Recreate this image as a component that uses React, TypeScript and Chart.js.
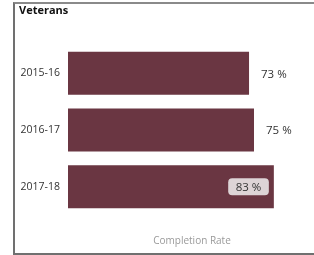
import React, { useEffect, useRef } from "react";
import { Chart, registerables } from "chart.js";

Chart.register(...registerables);

const titleText = "Veterans";
const categories = ["2015-16", "2016-17", "2017-18"];
const completionRate = [73, 75, 83];
const axisTitle = "Completion Rate";

const FONT = "'Open Sans', 'Noto Sans', sans-serif";

const cornerTitle = {
  id: "cornerTitle",
  afterDraw(chart: any) {
    const ctx = chart.ctx;
    ctx.save();
    ctx.font = `bold 11px ${FONT}`;
    ctx.fillStyle = "#111111";
    ctx.textAlign = "left";
    ctx.textBaseline = "middle";
    ctx.fillText(titleText, 19, 11);
    ctx.restore();
  },
};

const valueLabels = {
  id: "valueLabels",
  afterDatasetsDraw(chart: any) {
    const ctx = chart.ctx;
    const meta = chart.getDatasetMeta(0);
    ctx.save();
    ctx.font = `11.5px ${FONT}`;
    ctx.textBaseline = "middle";
    meta.data.forEach((bar: any, i: number) => {
      const text = `${completionRate[i]} %`;
      const w = ctx.measureText(text).width;
      const outsideX = bar.x + 12;
      if (outsideX + w <= 300) {
        ctx.fillStyle = "#333333";
        ctx.textAlign = "left";
        ctx.fillText(text, outsideX, bar.y + 1);
      } else {
        const boxW = w + 15;
        const boxH = 17;
        const bx = bar.x - 5 - boxW;
        const by = bar.y - boxH / 2;
        ctx.fillStyle = "#ddd4d6";
        ctx.beginPath();
        (ctx as any).roundRect(bx, by, boxW, boxH, 4);
        ctx.fill();
        ctx.fillStyle = "#333333";
        ctx.textAlign = "center";
        ctx.fillText(text, bx + boxW / 2, bar.y + 1);
      }
    });
    ctx.restore();
  },
};

export default function App() {
  const ref = useRef<HTMLCanvasElement>(null);
  useEffect(() => {
    if (!ref.current) return;
    const chart = new Chart(ref.current, {
      type: "bar",
      data: {
        labels: categories,
        datasets: [
          {
            data: completionRate,
            backgroundColor: "#6a3642",
            borderWidth: 0,
            barPercentage: 0.76,
            categoryPercentage: 1,
          },
        ],
      },
      options: {
        indexAxis: "y",
        animation: false,
        responsive: false,
        maintainAspectRatio: false,
        layout: { padding: { left: 0, right: 0, top: 45, bottom: 4 } },
        plugins: {
          legend: { display: false },
          tooltip: { enabled: false },
          title: { display: false },
        },
        scales: {
          x: {
            min: 0,
            max: 100,
            grid: { display: false },
            border: { display: false },
            ticks: { display: false },
            title: {
              display: true,
              text: axisTitle,
              color: "#9a9a9a",
              font: { family: FONT, size: 10 },
              padding: { top: 0, bottom: 4 },
            },
            afterFit(scale: any) {
              scale.height = 36;
            },
          },
          y: {
            grid: { display: false, drawTicks: false },
            border: { display: false },
            ticks: {
              color: "#333333",
              padding: 8,
              font: { family: FONT, size: 10.5 },
            },
            afterFit(scale: any) {
              scale.width = 68;
            },
          },
        },
      },
      plugins: [valueLabels, cornerTitle],
    } as any);
    return () => chart.destroy();
  }, []);

  return (
    <div
      style={{
        position: "fixed",
        left: 0,
        top: 0,
        width: 314,
        height: 255,
        overflow: "hidden",
        background: "#ffffff",
      }}
    >
      <div
        style={{
          position: "absolute",
          left: 13,
          top: 2,
          width: 400,
          height: 253,
          boxSizing: "border-box",
          borderLeft: "2px solid #707070",
          borderTop: "2px solid #8a8a8a",
          borderBottom: "2px solid #707070",
        }}
      />
      <canvas
        ref={ref}
        width={316}
        height={255}
        style={{ position: "absolute", left: 0, top: 0, width: 316, height: 255 }}
      />
    </div>
  );
}
